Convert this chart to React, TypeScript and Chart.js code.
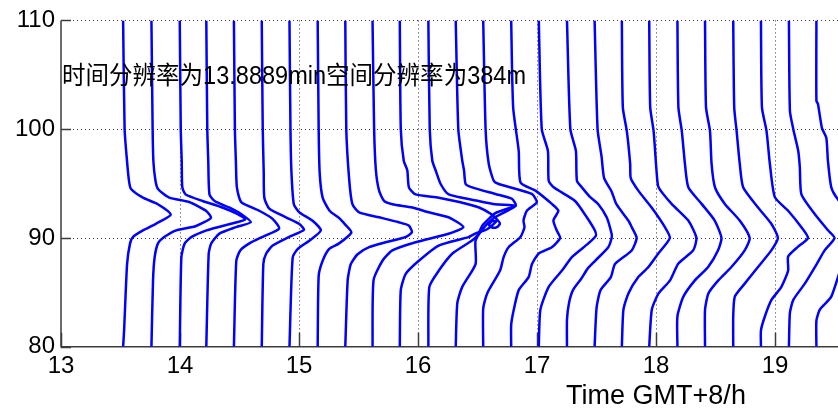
import React, { useEffect, useRef } from "react";
import { Chart, registerables } from "chart.js";

Chart.register(...registerables);

// Start time (hours, GMT+8) of each height profile.
const profileTimes = [
  13.522, 13.76, 13.998, 14.221, 14.453, 14.687, 14.92, 15.157, 15.389, 15.618,
  15.847, 16.087, 16.317, 16.548, 16.783, 17.015, 17.252, 17.484, 17.713, 17.943,
  18.18, 18.412, 18.649, 18.882, 19.117, 19.348,
];

// Each profile: [deviation in minutes, height in km], top to bottom.
type Pt = [number, number];
const p00: Pt[] = [[0, 110], [0.75, 100], [2, 97], [3, 95.2], [4, 94.5], [10, 93.7], [17.5, 93.1], [24, 92.15], [16.5, 91.3], [10, 90.7], [5, 90.1], [3.5, 89.5], [2, 87.6], [0.5, 81.5], [0, 80]];
const p01: Pt[] = [[0, 110], [0.6, 100], [1, 97], [2, 95.3], [3.3, 94.5], [9, 93.7], [19, 93.3], [27.5, 92.5], [30, 91.85], [22.5, 91.1], [12.5, 90.7], [6.6, 90.1], [3.3, 89.5], [1.6, 88.2], [0.8, 86.1], [0, 80]];
const p02: Pt[] = [[0, 110], [0.5, 100], [1, 97], [1.3, 94.65], [3, 94.0], [11.5, 93.4], [21.5, 92.8], [29, 92.2], [33, 91.7], [21.5, 91.1], [13.5, 90.7], [6, 90.1], [2.5, 89.5], [0.8, 88.2], [0, 80]];
const p03: Pt[] = [[0, 110], [0.5, 100], [1, 97], [1.6, 94.0], [4.2, 93.4], [11.5, 92.8], [17.5, 92.2], [22.5, 91.45], [15, 91.0], [6.6, 90.4], [2.5, 89.5], [1.2, 88.55], [0, 80]];
const p04: Pt[] = [[0, 110], [0.5, 100], [1, 97], [1.5, 94.65], [3.7, 93.3], [12.8, 92.5], [19.5, 91.75], [22.8, 90.85], [14.5, 90.1], [7.8, 89.5], [3.2, 88.85], [1.2, 87.9], [0, 80]];
const p05: Pt[] = [[0, 110], [0.5, 100], [1, 96], [1.3, 93.7], [3.8, 92.7], [12.2, 91.9], [18.8, 91.3], [21.3, 90.75], [13.8, 90.1], [5.5, 89.3], [2.2, 88.55], [0.8, 87.6], [0, 80]];
const p06: Pt[] = [[0, 110], [0.5, 100], [1, 96], [2.2, 93.1], [5, 92.35], [11.5, 91.6], [15.8, 90.7], [10, 89.75], [4.2, 89.0], [1.6, 88.2], [0, 80]];
const p07: Pt[] = [[0, 110], [0.5, 100], [1, 96], [2.5, 93.7], [6, 92.5], [11, 91.8], [14, 91.2], [17, 90.5], [10.8, 89.5], [5.8, 89.0], [2.5, 87.9], [0.5, 86.5], [0, 80]];
const p08: Pt[] = [[0, 110], [0.5, 100], [2, 95.3], [3.6, 93.1], [7, 92.35], [17, 91.9], [27, 91.44], [32, 91.14], [33.6, 90.53], [30.3, 90.07], [20.3, 89.6], [12, 89.15], [6.2, 88.5], [2.8, 87.6], [1.2, 86.1], [0, 80]];
const p09: Pt[] = [[0, 110], [0.8, 100], [1.7, 96.2], [3.3, 94.35], [5.8, 93.4], [10, 93.1], [20, 92.8], [28.3, 92.36], [38.3, 91.9], [45.8, 91.0], [38.3, 90.38], [21.7, 89.6], [10, 88.85], [5, 87.9], [0.5, 86.1], [0, 80]];
const p10: Pt[] = [[0, 110], [0.5, 100], [2, 97.1], [3.8, 96.2], [4.6, 94.65], [8, 94.0], [19.6, 93.7], [30, 93.3], [40, 92.8], [46, 92.2], [49.5, 91.6], [50.5, 91.3], [49, 91.0], [46.5, 90.95], [45, 91.2], [46.5, 91.55], [48.5, 91.5], [44, 90.8], [38, 90.4], [34.6, 90.07], [19.6, 89.3], [9.6, 87.9], [3, 86.7], [0.5, 85.2], [0, 80]];
const p11: Pt[] = [[0, 110], [0.7, 100], [2, 97.1], [3.7, 96.2], [6.2, 94.96], [10.3, 94.0], [25.3, 93.4], [33.7, 93.1], [44, 92.97], [34, 92.3], [27.5, 91.2], [25, 90.3], [22, 89.76], [12, 88.55], [5.3, 87.0], [0.5, 85.5], [0, 80]];
const p12: Pt[] = [[0, 110], [1.3, 100], [3.3, 97.1], [4.2, 96.2], [5, 94.96], [8.3, 94.65], [20, 94.04], [28.3, 93.6], [30.3, 92.97], [24, 92.3], [19, 91.8], [14, 90.9], [10, 89.76], [10, 87.6], [3.3, 85.5], [0.8, 84], [0, 80]];
const p13: Pt[] = [[0, 110], [1.2, 100], [2.8, 96.8], [5.3, 95.26], [7.8, 94.96], [24.5, 94.04], [27, 93.27], [22, 92.5], [20.3, 91.6], [20.8, 90.98], [18.7, 90.07], [12.8, 89.15], [10.3, 88.24], [8.5, 87.0], [2, 84.9], [0, 83.5], [0, 80]];
const p14: Pt[] = [[0, 110], [1, 102], [3.8, 98.0], [4.7, 95.1], [12.2, 94.35], [20.5, 93.13], [23.8, 92.5], [21.3, 91.6], [23, 90.68], [24.7, 90.0], [20.5, 89.15], [13.8, 88.55], [10.5, 87.6], [8.8, 86.4], [3.8, 85.2], [1.3, 83.4], [0, 82], [0, 80]];
const p15: Pt[] = [[0, 110], [1.5, 100], [4.6, 98.0], [5, 95.26], [7.5, 94.65], [18.3, 93.4], [24.2, 91.9], [28.3, 90.68], [28.8, 90.2], [25, 89.5], [16.7, 88.24], [11.7, 87.0], [5, 85.5], [0.8, 83.4], [0, 80]];
const p16: Pt[] = [[0, 110], [1.7, 100], [4.5, 98.0], [5, 95.26], [7.5, 94.65], [11.7, 93.75], [15.8, 93.1], [20, 91.9], [22.5, 90.38], [22.5, 90.0], [20.8, 89.15], [14.2, 87.9], [10.5, 87.2], [7, 86.2], [3, 85.2], [1, 84], [0, 82.5], [0, 80]];
const p17: Pt[] = [[0, 110], [1.5, 100], [3.5, 97.5], [4.8, 95.5], [8.5, 94.3], [11, 93.1], [17, 91.6], [18.7, 91.0], [21.2, 90.0], [18.7, 88.85], [10.3, 87.6], [8.2, 86.4], [3, 85.2], [1, 83.6], [0, 80]];
const p18: Pt[] = [[0, 110], [0.5, 102], [2.5, 99.84], [4.2, 96.8], [4.5, 95.5], [8.3, 94.35], [15, 92.8], [21.7, 91.0], [24.2, 90.0], [18.3, 88.55], [13.3, 87.3], [8.3, 86.4], [3.3, 84.9], [0.8, 83.4], [0, 80]];
const p19: Pt[] = [[0, 110], [0.5, 102], [2.2, 99.84], [3.8, 95.9], [4.7, 94.66], [11.3, 93.13], [19.7, 91.6], [23.8, 90.0], [22.2, 88.86], [14.7, 87.64], [10.5, 86.1], [4.7, 84.9], [1.3, 83.4], [0, 80]];
const p20: Pt[] = [[0, 110], [0.5, 102], [2.2, 99.84], [3.8, 96.8], [5.5, 94.66], [12.2, 93.13], [18.8, 91.6], [22.2, 90.0], [20.5, 88.86], [15.5, 87.33], [8.8, 86.1], [3, 84.6], [0, 82.8], [0, 80]];
const p21: Pt[] = [[0, 110], [0.5, 102], [2.5, 99.84], [3.3, 96.8], [5, 94.66], [10, 93.13], [17.5, 91.6], [22.5, 90.0], [20, 88.86], [13.3, 87.33], [6.7, 86.1], [1.7, 84.9], [0, 83.4], [0, 80]];
const p22: Pt[] = [[0, 110], [0.5, 102], [1.7, 99.84], [3.3, 96.8], [5, 94.66], [12.5, 92.8], [19.2, 91.3], [22.5, 90.0], [19.2, 88.86], [12.5, 87.33], [5.8, 85.8], [0.8, 84.6], [0, 82.8], [0, 80]];
const p23: Pt[] = [[0, 110], [0.5, 102], [2.8, 99.84], [4.5, 96.8], [7, 93.75], [13.7, 92.5], [20.3, 91.0], [23.7, 90.0], [18.7, 89.2], [13.7, 88.3], [13.7, 87.0], [10.3, 85.5], [5.3, 84.3], [2, 82.8], [0, 81.5], [0, 80]];
const p24: Pt[] = [[0, 110], [0.5, 101.7], [2.2, 100], [4.7, 98], [5.5, 96.5], [6.3, 94.0], [13, 92.2], [19.7, 90.7], [23, 90.0], [18, 88.86], [14, 87.6], [8, 85.8], [2.2, 84.3], [0.5, 83.1], [0, 80]];
const p25: Pt[] = [[0, 110], [0, 102.6], [0.8, 102.3], [2.8, 100.1], [5, 99.2], [5.8, 97.1], [7.5, 94.65], [11, 93.5], [17.5, 92.2], [23, 90.0], [18, 88.8], [13, 87.5], [7.5, 84.6], [1.7, 83.4], [0, 82.4], [0, 80]];

const profiles: Pt[][] = [
  p00, p01, p02, p03, p04, p05, p06, p07, p08, p09, p10, p11, p12,
  p13, p14, p15, p16, p17, p18, p19, p20, p21, p22, p23, p24, p25,
];

// Axis ranges and tick values
const timeTicks = [13, 14, 15, 16, 17, 18, 19, 20, 21, 22, 23];
const heightTicks = [80, 90, 100, 110];
const noteText = "时间分辨率为13.8889min空间分辨率为384m";
const noteAt = { time: 13, height: 104.8 };
const axisTitle = "Time GMT+8/h";

const LATIN = '"Liberation Sans", Arial, "Noto Sans CJK SC", sans-serif';
const CANVAS_W = 1300;
const CANVAS_H = 410;

// Dotted grid, solid left/bottom axes and inward tick marks
const framePlugin = {
  id: "frame",
  beforeDatasetsDraw(chart: any) {
    const { ctx, chartArea: a, scales } = chart;
    const xs = scales.x;
    const ys = scales.y;
    ctx.save();
    ctx.strokeStyle = "rgba(30,30,30,0.9)";
    ctx.lineWidth = 1;
    ctx.setLineDash([1, 3]);
    for (const t of timeTicks) {
      if (t === timeTicks[0]) continue;
      const x = Math.round(xs.getPixelForValue(t)) + 0.5;
      ctx.beginPath();
      ctx.moveTo(x, a.top);
      ctx.lineTo(x, a.bottom);
      ctx.stroke();
    }
    for (const h of heightTicks) {
      if (h === heightTicks[0]) continue;
      const y = Math.round(ys.getPixelForValue(h)) + 0.5;
      ctx.beginPath();
      ctx.moveTo(a.left, y);
      ctx.lineTo(a.right, y);
      ctx.stroke();
    }
    ctx.setLineDash([]);
    ctx.strokeStyle = "#3c3c3c";
    ctx.lineWidth = 1.5;
    ctx.beginPath();
    ctx.moveTo(a.left, a.top);
    ctx.lineTo(a.left, a.bottom);
    ctx.lineTo(a.right, a.bottom);
    ctx.stroke();
    for (const h of heightTicks) {
      const y = Math.round(ys.getPixelForValue(h)) + 0.5;
      ctx.beginPath();
      ctx.moveTo(a.left, y);
      ctx.lineTo(a.left + 10, y);
      ctx.stroke();
    }
    for (const t of timeTicks) {
      const x = Math.round(xs.getPixelForValue(t)) + 0.5;
      ctx.beginPath();
      ctx.moveTo(x, a.bottom);
      ctx.lineTo(x, a.bottom - 14);
      ctx.stroke();
    }
    ctx.restore();
  },
};

// Resolution note written inside the plot
const notePlugin = {
  id: "note",
  afterDatasetsDraw(chart: any) {
    const { ctx, scales } = chart;
    const x = scales.x.getPixelForValue(noteAt.time);
    const y = scales.y.getPixelForValue(noteAt.height);
    ctx.save();
    ctx.fillStyle = "#000";
    ctx.font = `25px ${LATIN}`;
    ctx.textAlign = "left";
    ctx.textBaseline = "middle";
    ctx.fillText(noteText, x + 1, y, 464);
    ctx.restore();
  },
};

export default function App() {
  const canvasRef = useRef<HTMLCanvasElement | null>(null);

  useEffect(() => {
    const canvas = canvasRef.current;
    if (!canvas) return;

    const datasets = profiles.map((shape, i) => ({
      data: shape.map(([dev, h]) => ({ x: profileTimes[i] + dev / 60, y: h })),
      showLine: true,
      borderColor: "#0000ff",
      borderWidth: 2.5,
      pointRadius: 0,
      tension: 0.2,
      fill: false,
    }));

    const chart = new Chart(canvas, {
      type: "scatter",
      data: { datasets },
      options: {
        animation: false,
        responsive: false,
        devicePixelRatio: 1,
        layout: { padding: { top: 19, right: 49, left: 0, bottom: 0 } },
        plugins: {
          legend: { display: false },
          tooltip: { enabled: false },
        },
        scales: {
          x: {
            type: "linear",
            min: timeTicks[0],
            max: timeTicks[timeTicks.length - 1],
            afterBuildTicks: (s: any) => {
              s.ticks = timeTicks.map((v) => ({ value: v }));
            },
            ticks: {
              color: "#000",
              font: { family: LATIN, size: 24 },
              padding: 5,
              maxRotation: 0,
              autoSkip: false,
            },
            grid: { display: false, drawTicks: false },
            border: { display: false },
            title: {
              display: true,
              text: axisTitle,
              color: "#000",
              font: { family: LATIN, size: 27, lineHeight: 1 },
              padding: { top: 0, bottom: 0 },
            },
            afterFit: (s: any) => {
              s.height = 63.3;
            },
          },
          y: {
            type: "linear",
            min: heightTicks[0],
            max: heightTicks[heightTicks.length - 1],
            afterBuildTicks: (s: any) => {
              s.ticks = heightTicks.map((v) => ({ value: v }));
            },
            ticks: {
              color: "#000",
              font: { family: LATIN, size: 24 },
              padding: 6,
            },
            grid: { display: false, drawTicks: false },
            border: { display: false },
            afterFit: (s: any) => {
              s.width = 61;
            },
          },
        },
      },
      plugins: [framePlugin, notePlugin],
    });

    return () => chart.destroy();
  }, []);

  return (
    <div
      style={{
        position: "fixed",
        left: 0,
        top: 0,
        width: 838,
        height: 410,
        overflow: "hidden",
        background: "#fff",
      }}
    >
      <canvas
        ref={canvasRef}
        width={CANVAS_W}
        height={CANVAS_H}
        style={{ display: "block", width: CANVAS_W, height: CANVAS_H }}
      />
    </div>
  );
}
